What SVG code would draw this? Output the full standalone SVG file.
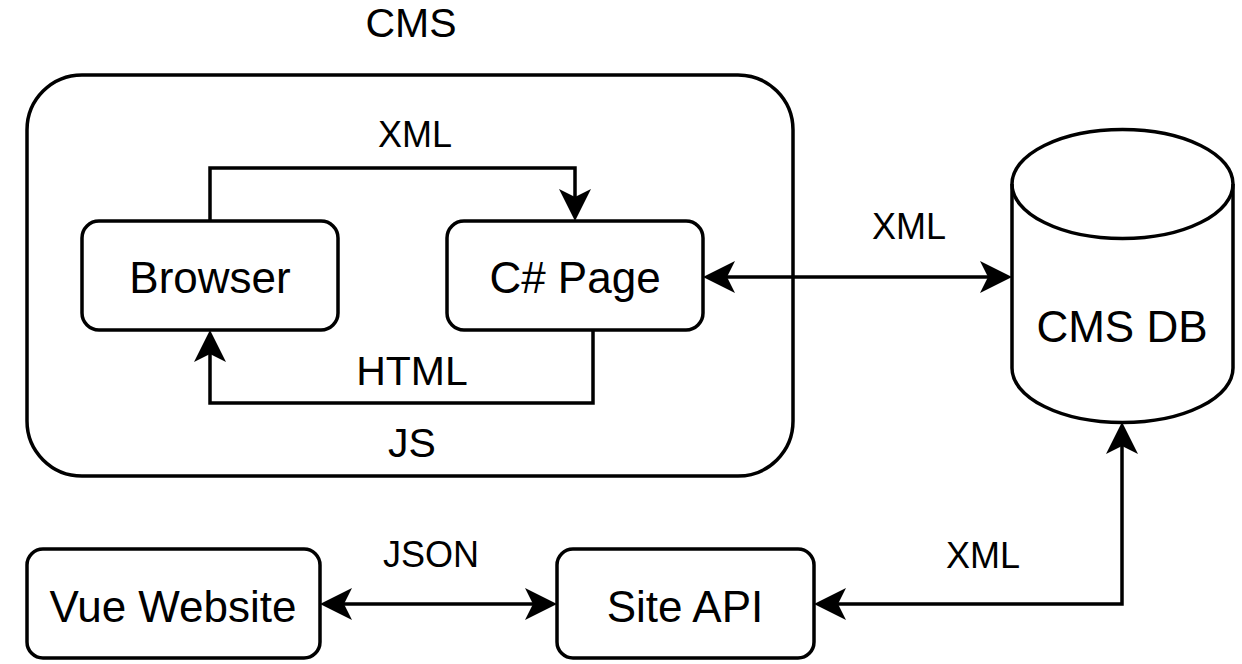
<svg xmlns="http://www.w3.org/2000/svg" width="1242" height="664" viewBox="0 0 1242 664">
<style>
.shape{fill:#fff;stroke:#000;stroke-width:3.5}
.edge{fill:none;stroke:#000;stroke-width:3.5}
text{font-family:"Liberation Sans",Arial,Helvetica,sans-serif;fill:#000;text-anchor:middle}
.node{font-size:44px}
.lbl{font-size:36px}
.big{font-size:41px}
</style>
<defs>
<marker id="arr" markerUnits="userSpaceOnUse" viewBox="0 0 32 32" markerWidth="32" markerHeight="32" refX="8" refY="16" orient="auto-start-reverse">
<path d="M0,0 L32,16 L0,32 L8,16 Z" fill="#000"/>
</marker>
</defs>
<rect width="1242" height="664" fill="#fff"/>
<g id="cms">
<rect class="shape" x="27" y="75" width="766" height="401" rx="55" ry="55"/>
<text class="big" x="411" y="37">CMS</text>
<text class="big" x="412" y="457">JS</text>
</g>
<g id="browser">
<rect class="shape" x="82" y="221" width="256" height="109" rx="17" ry="17"/>
<text class="node" x="210" y="293">Browser</text>
</g>
<g id="csharp-page">
<rect class="shape" x="447" y="221" width="256" height="109" rx="17" ry="17"/>
<text class="node" x="575" y="293">C# Page</text>
</g>
<g id="cms-db">
<path class="shape" d="M1012,184 A110.5,54.5 0 0 1 1233,184 V368 A110.5,54.5 0 0 1 1012,368 Z"/>
<path class="edge" d="M1012,184 A110.5,54.5 0 0 0 1233,184"/>
<text class="node" x="1122" y="342">CMS DB</text>
</g>
<g id="vue-website">
<rect class="shape" x="27" y="549" width="293" height="109" rx="16" ry="16"/>
<text class="node" x="173" y="622">Vue Website</text>
</g>
<g id="site-api">
<rect class="shape" x="557" y="549" width="257" height="109" rx="16" ry="16"/>
<text class="node" x="685" y="622">Site API</text>
</g>
<g id="connectors">
<path class="edge" d="M210,221 V168 H575 V197" marker-end="url(#arr)"/>
<text class="lbl" x="415" y="147">XML</text>
<path class="edge" d="M593,330 V403 H210 V354" marker-end="url(#arr)"/>
<text class="big" x="412" y="385">HTML</text>
<path class="edge" d="M727,277 H988" marker-start="url(#arr)" marker-end="url(#arr)"/>
<text class="lbl" x="909" y="239">XML</text>
<path class="edge" d="M344,604 H533" marker-start="url(#arr)" marker-end="url(#arr)"/>
<text class="lbl" x="431" y="567">JSON</text>
<path class="edge" d="M838,604 H1122 V446" marker-start="url(#arr)" marker-end="url(#arr)"/>
<text class="lbl" x="983" y="568">XML</text>
</g>
</svg>
